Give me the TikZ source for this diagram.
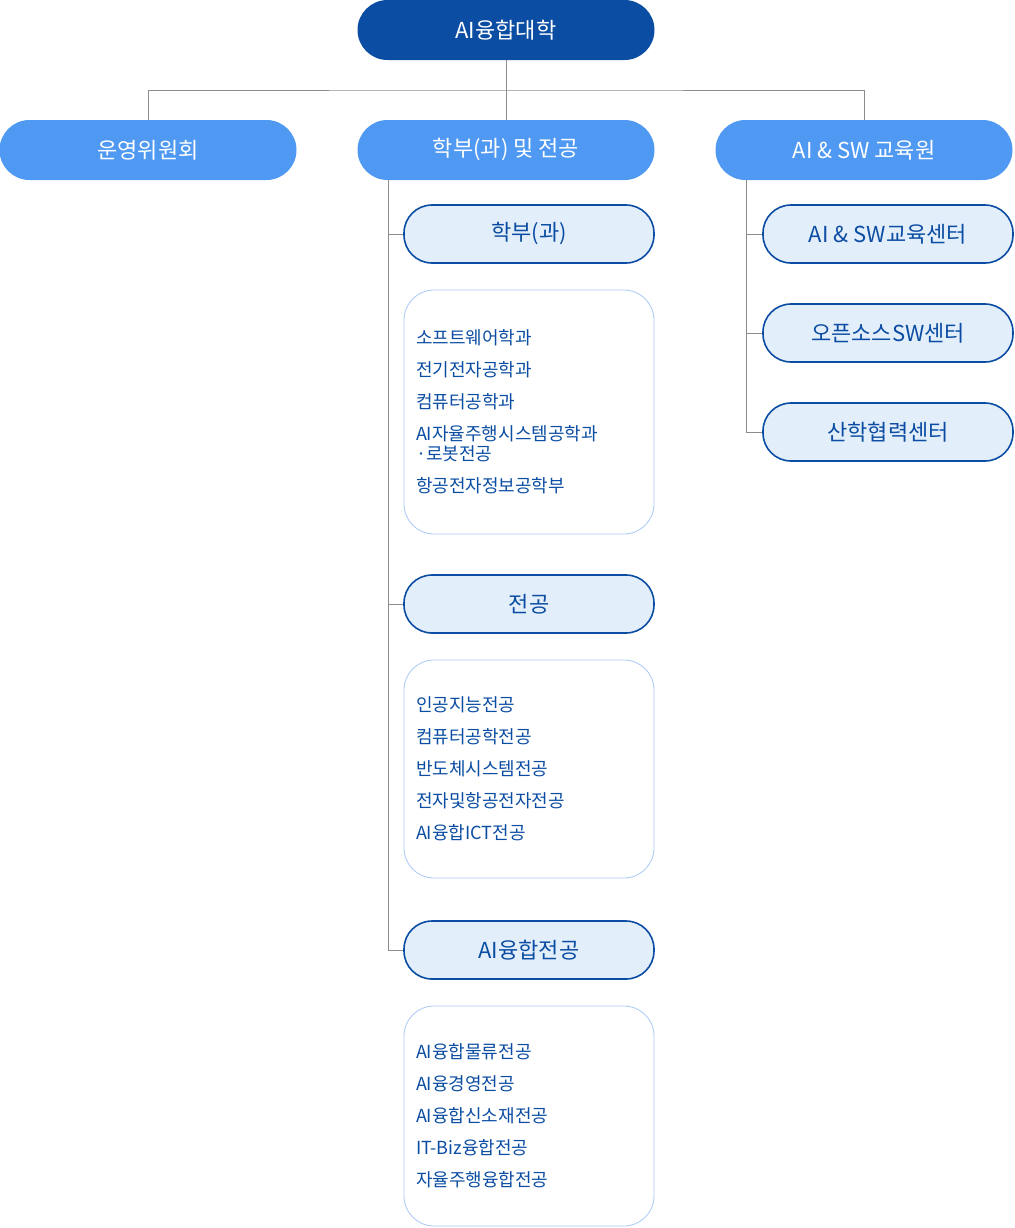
\documentclass[tikz,border=0pt]{standalone}
\usepackage{fontspec}
\setmainfont{Noto Sans CJK KR}
\usetikzlibrary{positioning}
\definecolor{navy}{HTML}{0B4DA2}
\definecolor{sky}{HTML}{4F99F2}
\definecolor{pale}{HTML}{E3EEFB}
\definecolor{faint}{HTML}{A9C8F5}
\definecolor{wire}{HTML}{8C8C8C}

\begin{document}
\begin{tikzpicture}[x=0.5pt, y=-0.5pt,
		top/.style={rectangle, rounded corners=15pt, fill=navy, text=white, minimum width=148.5pt, minimum height=30pt, font=\fontsize{11}{13}\selectfont},
		dept/.style={rectangle, rounded corners=15pt, fill=sky, text=white, minimum width=148.5pt, minimum height=30pt, font=\fontsize{11}{13}\selectfont},
		sub/.style={rectangle, rounded corners=14pt, draw=navy, thick, fill=pale, text=navy, minimum width=125pt, minimum height=29pt, font=\fontsize{11}{13}\selectfont},
		list/.style={rectangle, rounded corners=15pt, draw=faint, text=navy, text width=113pt, inner sep=6pt, minimum width=125pt, align=left, font=\fontsize{9}{16}\selectfont},
		wire/.style={draw=wire, line width=0.5pt}
	]
	\useasboundingbox (0,0) rectangle (1014,1228);
	\node[top] (college) at (506,30) {AI융합대학};
	\node[dept] (council) at (148,150) {운영위원회};
	\node[dept] (school) at (506,150) {학부(과) 및 전공};
	\node[dept] (edu) at (864,150) {AI \& SW 교육원};
	% left column
	\node[sub] (faculty) at (529,234) {학부(과)};
	\node[list, minimum height=122pt] (facultylist) at (529,412) {소프트웨어학과\\전기전자공학과\\컴퓨터공학과\\AI자율주행시스템공학과\\[-6pt]·로봇전공\\항공전자정보공학부};
	\node[sub] (major) at (529,604) {전공};
	\node[list, minimum height=109pt] (majorlist) at (529,769) {인공지능전공\\컴퓨터공학전공\\반도체시스템전공\\전자및항공전자전공\\AI융합ICT전공};
	\node[sub] (fusion) at (529,950) {AI융합전공};
	\node[list, minimum height=110pt] (fusionlist) at (529,1116) {AI융합물류전공\\AI융경영전공\\AI융합신소재전공\\IT-Biz융합전공\\자율주행융합전공};
	% right column
	\node[sub] (swcenter) at (888,234) {AI \& SW교육센터};
	\node[sub] (oss) at (888,333) {오픈소스SW센터};
	\node[sub] (coop) at (888,432) {산학협력센터};
	% connectors
	\coordinate (split) at (506,90);
	\draw[wire] (college.south) -- (split);
	\draw[wire] (council.north) |- (split) -| (edu.north);
	\draw[wire] (split) -- (school.north);
	\coordinate (schooltrunk) at (388,180);
	\coordinate (edutrunk) at (746,180);
	\draw[wire] (schooltrunk) |- (fusion.west);
	\draw[wire] (schooltrunk) |- (faculty.west);
	\draw[wire] (schooltrunk) |- (major.west);
	\draw[wire] (edutrunk) |- (coop.west);
	\draw[wire] (edutrunk) |- (swcenter.west);
	\draw[wire] (edutrunk) |- (oss.west);
\end{tikzpicture}
\end{document}
